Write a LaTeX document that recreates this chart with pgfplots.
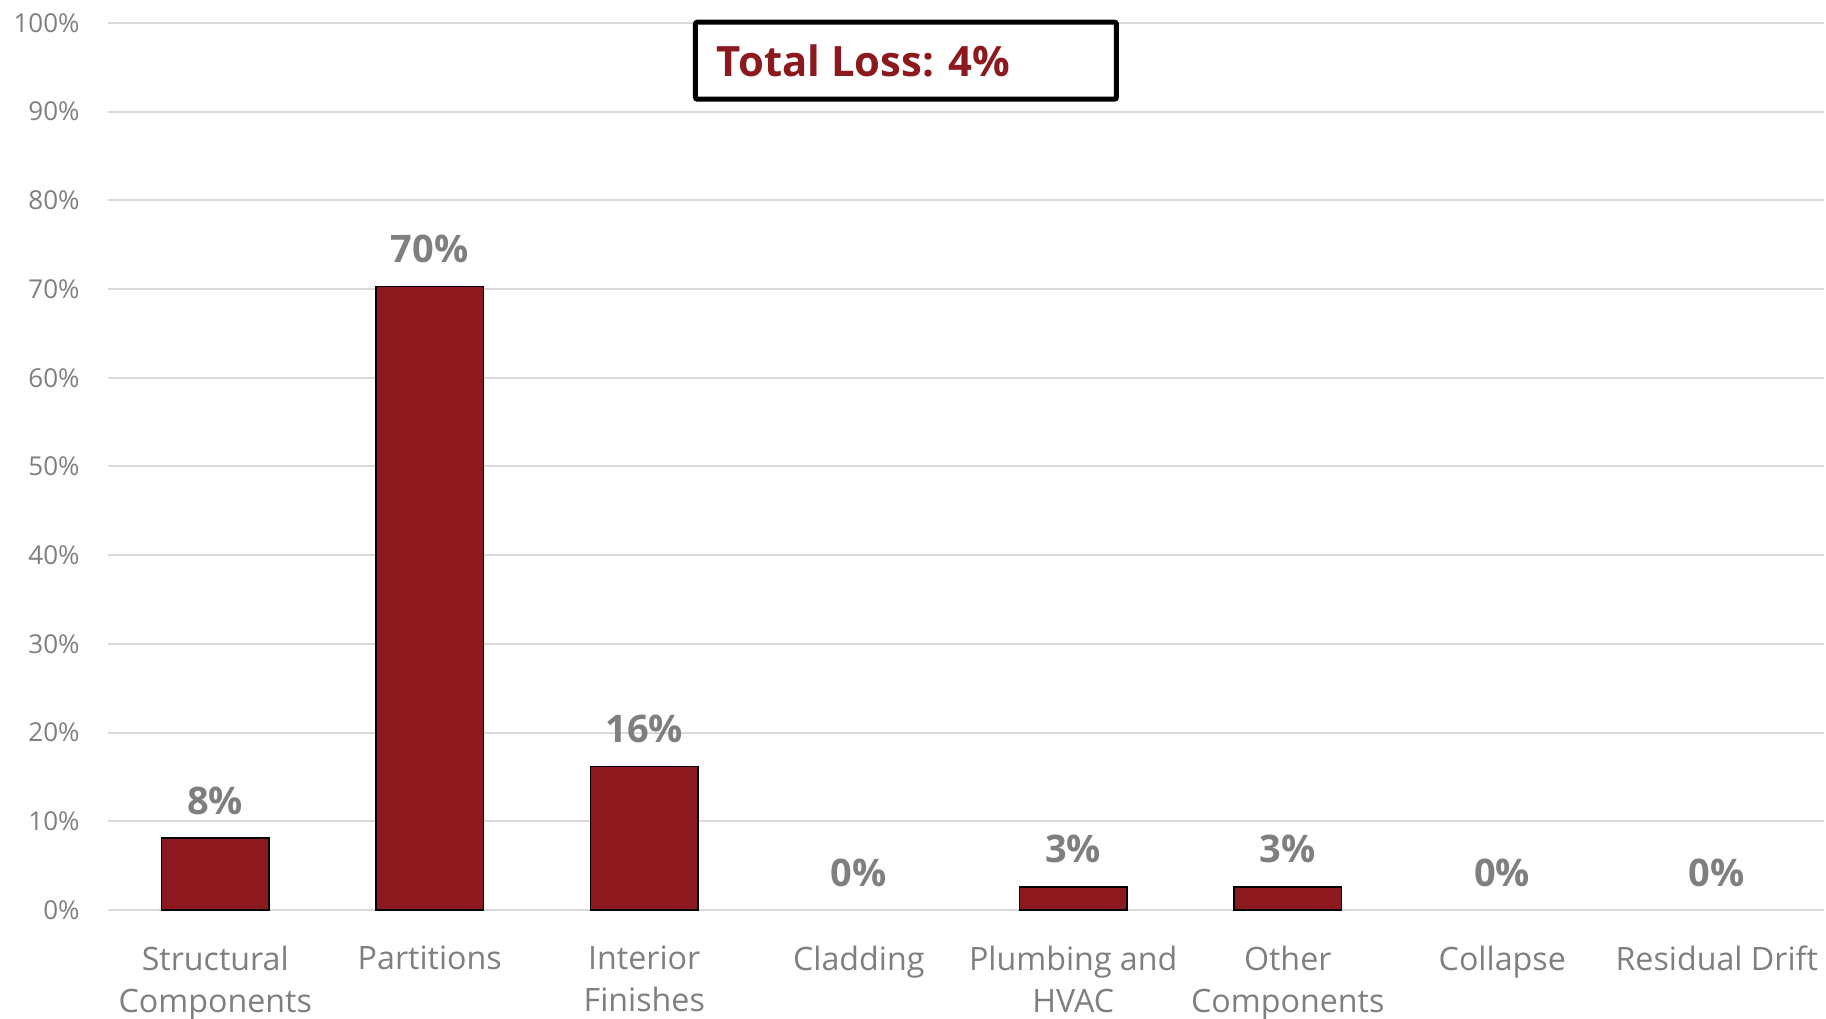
\documentclass[border=0pt]{standalone}
\usepackage{pgfplots}
\pgfplotsset{compat=1.18}
\usepackage{fontspec}
\setmainfont{Open Sans}
\definecolor{barred}{RGB}{139,25,29}
\definecolor{txtgray}{RGB}{127,127,127}
\definecolor{gridgray}{RGB}{217,217,217}
\begin{document}
\begin{tikzpicture}
\begin{axis}[
 at={(0,0)}, anchor=south west,
 width=858pt, height=443.5pt, scale only axis,
 xmin=-0.5, xmax=7.5, ymin=0, ymax=100,
 axis line style={draw=none},
 major tick length=0pt,
 ytick={0,10,...,100},
 yticklabel={\pgfmathprintnumber{\tick}\%},
 ymajorgrids, major grid style={draw=gridgray, line width=1pt},
 xtick={0,...,7},
 xticklabels={{Structural\\Components},Partitions,{Interior\\Finishes},Cladding,{Plumbing and\\HVAC},{Other\\Components},Collapse,Residual Drift},
 xticklabel style={anchor=north, inner sep=0pt, yshift=-17.75pt, align=center, font=\fontsize{16.1}{21}\selectfont, text=txtgray},
 yticklabel style={anchor=east, inner sep=0pt, xshift=-14pt, font=\fontsize{13}{15}\selectfont, text=txtgray},
 /pgf/number format/assume math mode=true,
 clip=false,
]
\addplot[ybar, bar width=0.5, fill=barred, draw=black, line width=0.75pt]
 coordinates {(0,8.1) (1,70.3) (2,16.2) (4,2.6) (5,2.6)};
\addplot[draw=none, mark=none,
 nodes near coords={\pgfmathprintnumber[fixed,precision=0]{\pgfplotspointmeta}\%},
 nodes near coords style={anchor=base, yshift=12pt, inner sep=0pt, font=\fontsize{19}{22}\selectfont\bfseries, text=txtgray}]
 coordinates {(0,8.1) (1,70.3) (2,16.2) (3,0) (4,2.6) (5,2.6) (6,0) (7,0)};
\node[draw=black, line width=2.5pt, rounded corners=1pt, minimum width=210.5pt, minimum height=38.5pt, inner sep=0pt, fill=white]
 at (rel axis cs:0.465,0.9575) {\makebox[189pt][l]{\fontsize{20.9}{24}\selectfont\bfseries\color{barred}Total Loss: 4\%}};
\end{axis}
\pgfresetboundingbox
\path[use as bounding box] (-54pt,-54pt) rectangle (859pt,455pt);
\end{tikzpicture}
\end{document}
